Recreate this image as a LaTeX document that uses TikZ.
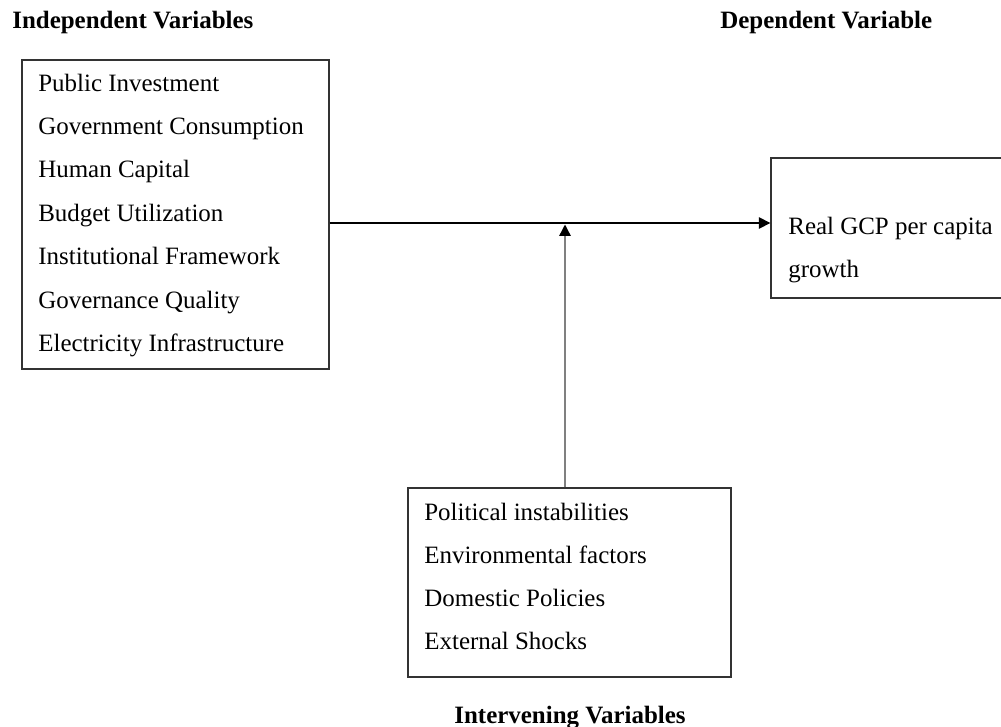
\documentclass[tikz,border=0pt]{standalone}
\usepackage{fontspec}
\setmainfont{Liberation Serif}
\usetikzlibrary{arrows.meta}
\begin{document}
\begin{tikzpicture}[
        x = .02cm, y = -.02cm,
        font = \fontsize{14.2}{17}\selectfont,
        box/.style = {draw = black!80, line width = .8pt, inner sep = 0},
        item/.style = {anchor = base west, inner sep = 0},
        head/.style = {anchor = base west, inner sep = 0, font = \fontsize{14.2}{17}\selectfont\bfseries},
        link/.style = {line width = .8pt, -{Triangle[length = 6.5pt, width = 6.5pt, black]}}
    ]
        \useasboundingbox (0, 0) rectangle (1001, 727);
        \clip (0, 0) rectangle (1001, 727);

        \node[head] (indephead) at (12, 28) {Independent Variables};
        \node[head] (dephead) at (720, 28) {Dependent Variable};
        \node[head, anchor = base] (intervhead) at (570, 723) {Intervening Variables};

        \node[box, minimum width = 6.14cm, minimum height = 6.18cm] (indep) at (175.5, 214.5) {};
        \foreach \txt [count = \i from 0] in {Public Investment, Government Consumption, Human Capital, Budget Utilization, Institutional Framework, Governance Quality, Electricity Infrastructure}
            \node[item] (iv\i) at (38, 91 + 43.4*\i) {\txt};

        \node[box, minimum width = 5cm, minimum height = 2.8cm] (dep) at (896, 228) {};
        \node[item] (dv0) at (788, 234) {Real GCP per capita};
        \node[item] (dv1) at (788, 277) {growth};

        \node[box, minimum width = 6.46cm, minimum height = 3.78cm] (interv) at (569.5, 582.5) {};
        \foreach \txt [count = \i from 0] in {Political instabilities, Environmental factors, Domestic Policies, External Shocks}
            \node[item] (mv\i) at (424, 520 + 43.2*\i) {\txt};

        \coordinate (join) at (565, 224.5);
        \draw[link] (indep.east |- 0, 223) -- (dep.west |- 0, 223);
        \draw[link, draw = black!50] (interv.north -| join) -- (join);
    \end{tikzpicture}
\end{document}
